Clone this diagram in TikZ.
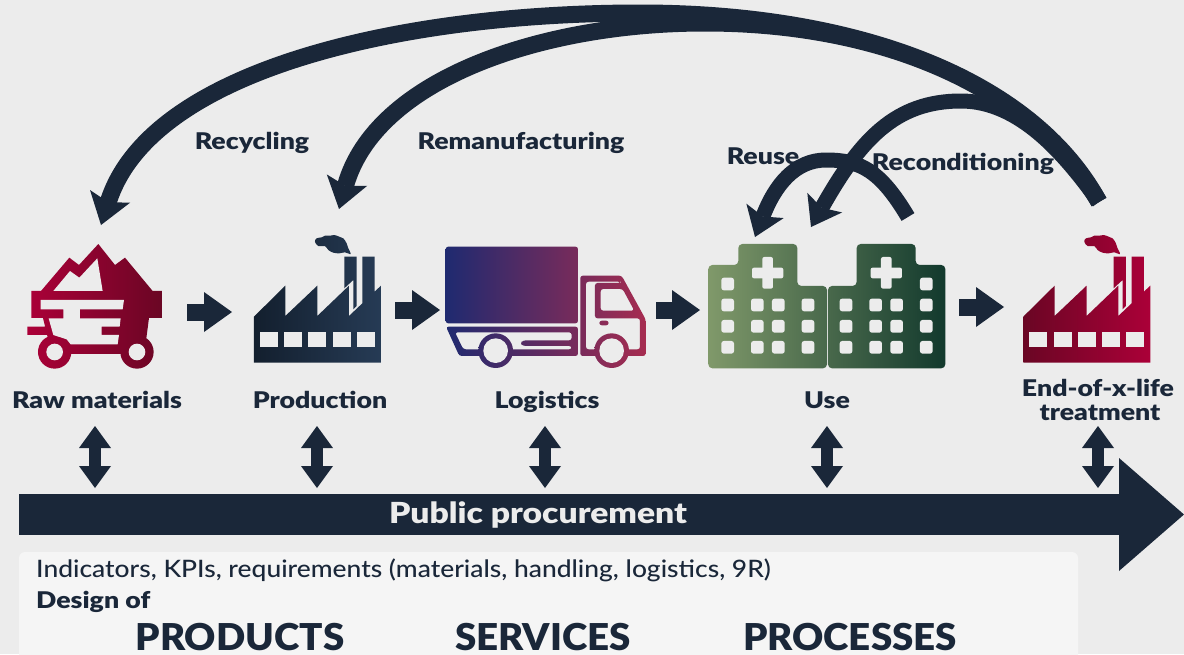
\documentclass[tikz,border=0pt]{standalone}
\usepackage{fontspec}
\setmainfont{Lato}
\newfontfamily\heavyfont[FakeStretch=1.04]{Lato Black}
\newfontfamily\labfont[FakeStretch=1.16]{Lato Black}
\newfontfamily\medfont[FakeStretch=1.1]{Lato Medium}
\usetikzlibrary{arrows.meta}
\definecolor{navy}{HTML}{1A2739}
\definecolor{bgc}{HTML}{ECECEC}
\definecolor{panelc}{HTML}{F5F5F5}
\definecolor{crimA}{HTML}{AB0038}
\definecolor{crimB}{HTML}{6A0624}
\definecolor{factA}{HTML}{131F2E}
\definecolor{factB}{HTML}{263B55}
\definecolor{truckA}{HTML}{1F2A70}
\definecolor{truckB}{HTML}{A62C50}
\definecolor{hospA}{HTML}{80996A}
\definecolor{hospB}{HTML}{476749}
\definecolor{hospC}{HTML}{12392D}
\tikzset{
  curvearrow/.style={draw=navy,line width=17pt,-{Stealth[length=30pt,width=42pt,inset=6pt,line width=0pt]}},
  smallcurve/.style={draw=navy,line width=15pt,-{Stealth[length=28pt,width=40pt,inset=6pt,line width=0pt]}},
  blockarrow/.style={draw=navy,line width=17pt,-{Triangle[length=28pt,width=40pt,line width=0pt]}},
  doublearrow/.style={draw=navy,line width=12pt,{Triangle[length=22pt,width=32pt,line width=0pt]}-{Triangle[length=22pt,width=32pt,line width=0pt]}},
  bigarrow/.style={draw=navy,line width=41pt,-{Triangle[length=65pt,width=113pt,line width=0pt]}},
  lab/.style={text=navy,font=\fontsize{23}{25}\labfont,anchor=base,inner sep=0pt},
  captext/.style={text=navy,font=\fontsize{37}{40}\heavyfont,anchor=base,inner sep=0pt},
}
\newcommand{\drawfactory}[3]{%
\begin{scope}[shift={(#1)},x=.3333pt,y=-.3333pt]
\shade[left color=#2,right color=#3]
 (762,290) -- (856,197) -- (856,288) -- (952,197) -- (952,288) -- (1047,197) -- (1047,288) -- (1143,197) -- (1143,428) -- (762,428) -- cycle
 (1033,110) -- (1070,110) -- (1070,258) -- (1060,268) -- (1060,180) -- (1033,205) -- cycle
 (1087,110) -- (1124,110) -- (1124,215) -- (1087,250) -- cycle
 plot[smooth cycle,tension=.6] coordinates {(945,65) (950,55) (965,52) (975,47) (990,47) (1003,45) (1018,50) (1030,55) (1040,70) (1045,85) (1052,102) (1035,97) (1018,100) (1000,98) (985,90) (975,78) (955,78)};
\foreach \wx in {780,853,925,998,1070}
  \fill[bgc] (\wx,336) rectangle ++(54,46);
\end{scope}}
\begin{document}
\begin{tikzpicture}[x=1pt,y=-1pt]
\useasboundingbox (0,0) rectangle (1184,654);
\fill[bgc] (0,0) rectangle (1184,654);
% panel
\fill[panelc,rounded corners=6pt] (19,552) -- (1078,552) -- (1078,670) -- (19,670) -- cycle;

% cart
\begin{scope}[shift={(0,220)},x=.3333pt,y=-.3333pt]
\shade[left color=crimA,right color=crimB]
 (94,213) -- (123,213) -- (208,113) -- (237,135) -- (295,72) -- (345,135) -- (375,113) -- (458,213) -- (488,213) -- (488,294) -- (447,294) -- (433,402) -- (150,402) -- (145,360) -- (129,294) -- (94,294) -- cycle
 (164+50,396) arc[start angle=0,end angle=360,radius=50]
 (411+50,396) arc[start angle=0,end angle=360,radius=50]
 (82,320) -- (150,320) -- (150,345) -- (82,345) -- cycle;
\fill[bgc] (160,213) -- (210,153) -- (238,173) -- (292,115) -- (308,213) -- cycle;
\fill[bgc] (122,240) -- (372,240) -- (368,268) -- (240,268) -- (240,295) -- (362,295) -- (359,320) -- (305,320) -- (305,345) -- (357,345) -- (353,373) -- (212,373) -- (200,358) -- (160,345) -- (146,295) -- (190,295) -- (190,268) -- (122,268) -- cycle;
\fill[bgc] (164,396) circle[radius=25];
\fill[bgc] (411,396) circle[radius=25];
\end{scope}

% factories
\drawfactory{0,220}{factA}{factB}
\drawfactory{769.3,220}{crimB}{crimA}

% truck
\begin{scope}[shift={(400,220)},x=.3333pt,y=-.3333pt]
\shade[even odd rule,left color=truckA,right color=truckB,rounded corners=2.5pt]
 (137,80) -- (534,80) -- (534,310) -- (137,310) -- cycle
 (138,320) -- (534,320) -- (534,408) -- (178,408) -- cycle
 (165,337) -- (515,337) -- (515,361) -- (370,361) -- (360,370) -- (370,378) -- (515,378) -- (515,388) -- (190,388) -- cycle
 (541,167) -- (665,167) -- (737,298) -- (737,408) -- (541,408) -- cycle
 (558,185) -- (662,185) -- (662,189) -- (585,189) -- (585,295) -- (720,295) -- (720,388) -- (558,388) -- cycle
 (602,207) -- (668,207) -- (703,272) -- (602,272) -- cycle
 (598,302) -- (626,302) -- (626,316) -- (598,316) -- cycle;
\shade[left color=truckB!16!truckA,right color=truckB!34!truckA] (287,392) circle[radius=52];
\shade[left color=truckB!74!truckA,right color=truckB!92!truckA] (635,392) circle[radius=52];
\fill[bgc] (287,392) circle[radius=37];
\fill[bgc] (635,392) circle[radius=37];
\end{scope}

% hospital
\begin{scope}[shift={(690,130)},x=.3333pt,y=-.3333pt]
\shade[left color=hospA,middle color=hospB,right color=hospC,rounded corners=4pt]
 (55,405) -- (145,405) -- (145,342) -- (322,342) -- (322,468) -- (411,468) -- (411,715) -- (55,715) -- cycle
 (414,468) -- (500,468) -- (500,342) -- (677,342) -- (677,405) -- (766,405) -- (766,715) -- (414,715) -- cycle;
\foreach \wx in {94,183,246,335,449,538,601,690}
  \foreach \wy in {506,570,633}
    \fill[bgc,rounded corners=2.5pt] (\wx,\wy) rectangle ++(38,38);
\fill[bgc,rounded corners=2.5pt] (94,443) rectangle ++(38,38);
\fill[bgc,rounded corners=2.5pt] (690,443) rectangle ++(38,38);
\foreach \cx in {233,589} {
  \fill[bgc,rounded corners=2pt] (\cx-16,381) rectangle (\cx+16,476);
  \fill[bgc,rounded corners=2pt] (\cx-47,413) rectangle (\cx+47,445);
}
\end{scope}

% named ends of connectors
\coordinate (eolTop) at (1099,202);
\coordinate (recTop) at (640,13);
\coordinate (remTop) at (705,23);
\coordinate (conTop) at (961,101);
\coordinate (useTopR) at (908,217);
\coordinate (reuTop) at (826,160);
\coordinate (rawIn) at (101,225);
\coordinate (prodIn) at (339,209);
\coordinate (useInA) at (811,227);
\coordinate (useInB) at (755,237);

\draw[curvearrow] (eolTop) .. controls (1030,75) and (850,13) .. (recTop) .. controls (400,13) and (150,70) .. (rawIn);
\draw[curvearrow] (eolTop) .. controls (1030,85) and (880,23) .. (remTop) .. controls (540,23) and (375,80) .. (prodIn);
\draw[smallcurve] (eolTop) .. controls (1065,155) and (1020,101) .. (conTop) .. controls (895,101) and (860,140) .. (useInA);
\draw[smallcurve] (useTopR) .. controls (880,170) and (860,160) .. (reuTop) .. controls (795,160) and (775,185) .. (useInB);

% flow arrows
\coordinate (a1s) at (187,312); \coordinate (a1e) at (232,312);
\coordinate (a2s) at (395,310); \coordinate (a2e) at (440,310);
\coordinate (a3s) at (656,310); \coordinate (a3e) at (700,310);
\coordinate (a4s) at (959,307); \coordinate (a4e) at (1004,307);
\draw[blockarrow] (a1s) -- (a1e);
\draw[blockarrow] (a2s) -- (a2e);
\draw[blockarrow] (a3s) -- (a3e);
\draw[blockarrow] (a4s) -- (a4e);

% public procurement arrow
\coordinate (ppS) at (19,514.5);
\coordinate (ppE) at (1184,514.5);
\draw[bigarrow] (ppS) -- (ppE);

% double arrows
\foreach \nm/\dx in {d1/95,d2/317,d3/545,d4/827,d5/1098} {
  \coordinate (\nm t) at (\dx,426);
  \coordinate (\nm b) at (\dx,488);
  \draw[doublearrow] (\nm t) -- (\nm b);
}

% labels
\node[lab] (rawL) at (97,408) {Raw materials};
\node[lab] (prodL) at (320,408) {Production};
\node[lab] (logL) at (547,408) {Logistics};
\node[lab] (useL) at (827,408) {Use};
\node[lab] (eolL) at (1098,396) {End-of-x-life};
\node[lab] (eolM) at (1100,420) {treatment};
\node[lab] (recyL) at (252,149) {Recycling};
\node[lab] (remL) at (521,149) {Remanufacturing};
\node[lab] (reuL) at (763,164) {Reuse};
\node[lab] (conL) at (963,170) {Reconditioning};
\node[lab,text=bgc,font=\fontsize{29}{30}\labfont] (ppL) at (538,523) {Public procurement};
\node[lab,anchor=base west,font=\fontsize{24}{26}\medfont] (indL) at (36,577) {Indicators, KPIs, requirements (materials, handling, logistics, 9R)};
\node[lab,anchor=base west] (desL) at (36,608) {Design of};
\node[captext] (c1) at (240,650) {PRODUCTS};
\node[captext] (c2) at (543,650) {SERVICES};
\node[captext] (c3) at (850,650) {PROCESSES};
\end{tikzpicture}
\end{document}
